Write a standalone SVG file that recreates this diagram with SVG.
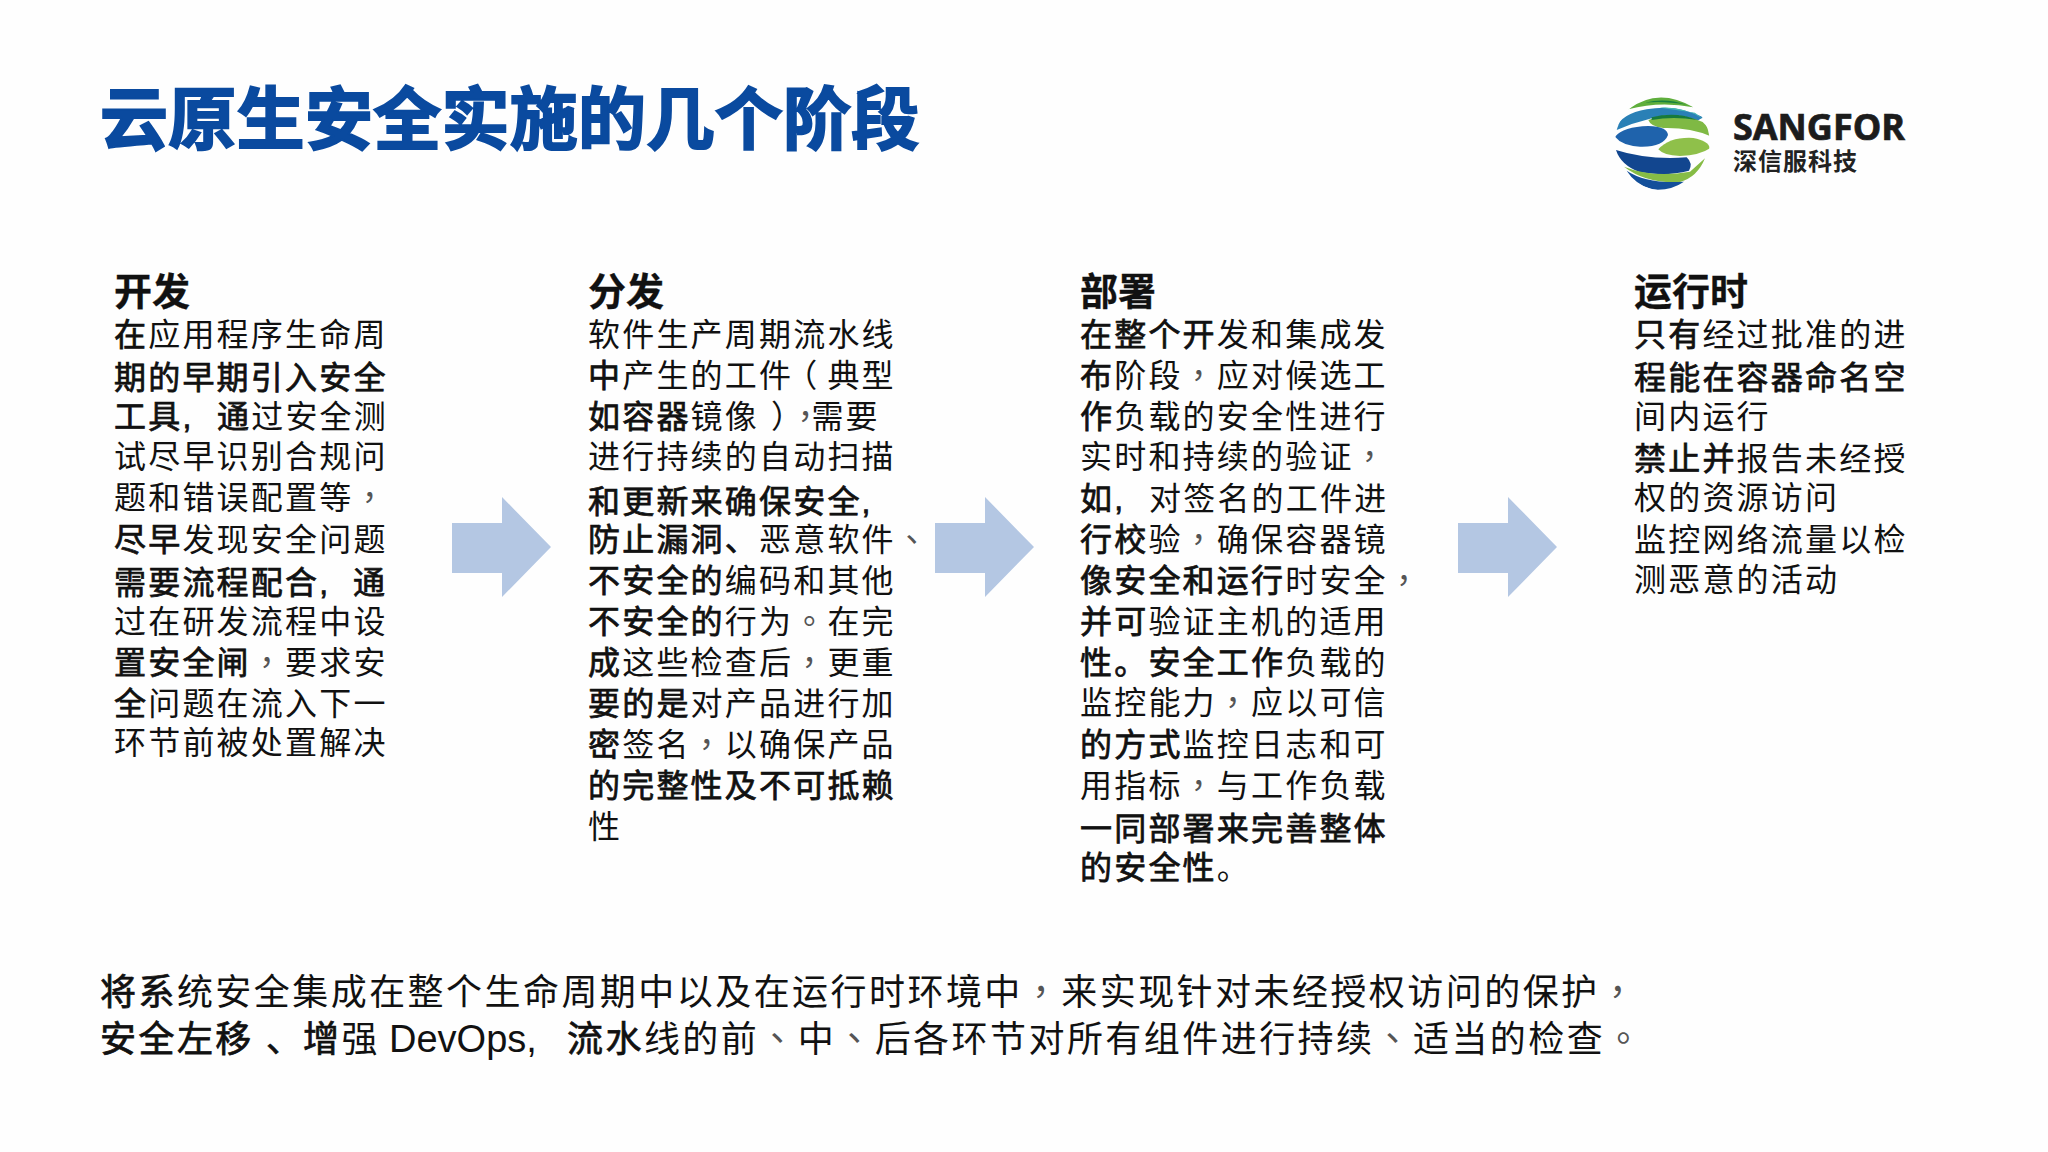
<svg xmlns="http://www.w3.org/2000/svg" width="2048" height="1152" viewBox="0 0 2048 1152">
<defs>
<style>
text{font-family:"Liberation Sans","Noto Sans CJK SC",sans-serif;fill:#111;white-space:pre}
.t{font-size:32px;letter-spacing:2.2px}
.h{font-size:38px;font-weight:700;letter-spacing:0;stroke:#111;stroke-width:.3px}
.b{stroke:#111;stroke-width:.75px}
.p{font-family:"Noto Sans CJK TC",sans-serif;fill:#555}
.f{font-size:36px;letter-spacing:2.45px}
.title{font-size:68px;font-weight:700;fill:#0a4a9f;stroke:#0a4a9f;stroke-width:2px;letter-spacing:.3px}
.arrow{fill:#b4c7e3}
</style>
<clipPath id="globe"><circle cx="247" cy="218" r="142"/></clipPath>
</defs>
<rect width="2048" height="1152" fill="#fefefe"/>
<text class="title" x="100" y="144">云原生安全实施的几个阶段</text>
<g id="logo">
<g transform="translate(1580,70) scale(0.3333)">
<g clip-path="url(#globe)">
<path d="M145 118Q235 50 340 112Q240 92 145 118Z" fill="#5fae3c"/>
<path d="M195 98Q255 82 320 104Q250 92 195 98Z" fill="#17803f"/>
<path d="M105 178Q125 130 200 118Q290 102 370 142L352 152Q280 122 205 148Q155 160 110 180Z" fill="#2a80b6"/>
<path d="M240 113Q310 108 368 146L345 128Q290 120 240 113Z" fill="#45b7b4"/>
<path d="M205 150Q290 122 368 156Q392 178 390 198Q330 172 250 174Q212 170 205 150Z" fill="#7fb944"/>
<path d="M215 142Q290 124 352 150Q280 138 215 150Z" fill="#177a3c"/>
<path d="M105 200Q130 170 205 168Q262 170 264 195Q250 232 180 230Q125 226 105 200Z" fill="#1f63ac"/>
<path d="M235 238Q270 200 340 204Q385 212 390 235Q360 256 300 258Q250 256 235 238Z" fill="#8fc04a"/>
<path d="M108 240Q200 270 320 262Q340 280 327 302Q260 320 180 307Q122 285 108 240Z" fill="#12468f"/>
<path d="M132 290Q220 325 330 305L375 265Q352 322 300 336Q200 342 132 290Z" fill="#86bc45"/>
<path d="M140 302Q200 342 312 335Q270 364 215 358Q165 342 140 302Z" fill="#134f9a"/>
</g>
</g>
<text x="1733" y="140" font-size="35" font-weight="700" textLength="172" lengthAdjust="spacingAndGlyphs" style="font-family:'Open Sans','Liberation Sans',sans-serif;fill:#1c1c1c;stroke:#1c1c1c;stroke-width:.7px">SANGFOR</text>
<text x="1733" y="170" font-size="24" font-weight="700" style="letter-spacing:1px;fill:#222">深信服科技</text>
</g>
<g id="connectors">
<path class="arrow" d="M452 523H502V497L551 547L502 597V573H452Z"/>
<path class="arrow" d="M935 523H985V497L1034 547L985 597V573H935Z"/>
<path class="arrow" d="M1458 523H1508V497L1557 547L1508 597V573H1458Z"/>
</g>
<g id="stage-dev">
<text class="h" x="114" y="305">开发</text>
<text class="t" x="114" y="346"><tspan class="b">在</tspan>应用程序生命周</text>
<text class="t b" x="114" y="389">期的早期引入安全</text>
<text class="t" x="114" y="428"><tspan class="b">工具,</tspan><tspan class="b" x="217">通</tspan>过安全测</text>
<text class="t" x="114" y="468">试尽早识别合规问</text>
<text class="t" x="114" y="509">题和错误配置等<tspan class="p">，</tspan></text>
<text class="t" x="114" y="551"><tspan class="b">尽早</tspan>发现安全问题</text>
<text class="t b" x="114" y="594">需要流程配合,<tspan x="353">通</tspan></text>
<text class="t" x="114" y="633">过在研发流程中设</text>
<text class="t" x="114" y="674"><tspan class="b">置安全闸</tspan><tspan class="p">，</tspan>要求安</text>
<text class="t" x="114" y="715"><tspan class="b">全</tspan>问题在流入下一</text>
<text class="t" x="114" y="754">环节前被处置解决</text>
</g>
<g id="stage-dist">
<text class="h" x="588" y="305">分发</text>
<text class="t" x="588" y="346">软件生产周期流水线</text>
<text class="t" x="588" y="387"><tspan class="b">中</tspan>产生的工件<tspan dx="-8">（</tspan><tspan dx="8">典型</tspan></text>
<text class="t" x="588" y="428"><tspan class="b">如容器</tspan>镜像<tspan dx="12">）</tspan><tspan class="p">，</tspan><tspan dx="-12">需要</tspan></text>
<text class="t" x="588" y="468">进行持续的自动扫描</text>
<text class="t b" x="588" y="513">和更新来确保安全,</text>
<text class="t" x="588" y="551"><tspan class="b">防止漏洞、</tspan>恶意软件<tspan class="p">、</tspan></text>
<text class="t" x="588" y="592"><tspan class="b">不安全的</tspan>编码和其他</text>
<text class="t" x="588" y="633"><tspan class="b">不安全的</tspan>行为<tspan class="p">。</tspan>在完</text>
<text class="t" x="588" y="674"><tspan class="b">成</tspan>这些检查后<tspan class="p">，</tspan>更重</text>
<text class="t" x="588" y="715"><tspan class="b">要的是</tspan>对产品进行加</text>
<text class="t" x="588" y="756"><tspan class="b">密</tspan>签名<tspan class="p">，</tspan>以确保产品</text>
<text class="t b" x="588" y="797">的完整性及不可抵赖</text>
<text class="t" x="588" y="838">性</text>
</g>
<g id="stage-deploy">
<text class="h" x="1080" y="305">部署</text>
<text class="t" x="1080" y="346"><tspan class="b">在整个开</tspan>发和集成发</text>
<text class="t" x="1080" y="387"><tspan class="b">布</tspan>阶段<tspan class="p">，</tspan>应对候选工</text>
<text class="t" x="1080" y="428"><tspan class="b">作</tspan>负载的安全性进行</text>
<text class="t" x="1080" y="468">实时和持续的验证<tspan class="p">，</tspan></text>
<text class="t" x="1080" y="510"><tspan class="b">如,</tspan><tspan x="1149">对签名的工件进</tspan></text>
<text class="t" x="1080" y="551"><tspan class="b">行校</tspan>验<tspan class="p">，</tspan>确保容器镜</text>
<text class="t" x="1080" y="592"><tspan class="b">像安全和运行</tspan>时安全<tspan class="p">，</tspan></text>
<text class="t" x="1080" y="633"><tspan class="b">并可</tspan>验证主机的适用</text>
<text class="t" x="1080" y="674"><tspan class="b">性。安全工作</tspan>负载的</text>
<text class="t" x="1080" y="714">监控能力<tspan class="p">，</tspan>应以可信</text>
<text class="t" x="1080" y="756"><tspan class="b">的方式</tspan>监控日志和可</text>
<text class="t" x="1080" y="797">用指标<tspan class="p">，</tspan>与工作负载</text>
<text class="t b" x="1080" y="840">一同部署来完善整体</text>
<text class="t" x="1080" y="879"><tspan class="b">的安全性</tspan>。</text>
</g>
<g id="stage-run">
<text class="h" x="1634" y="305">运行时</text>
<text class="t" x="1634" y="346"><tspan class="b">只有</tspan>经过批准的进</text>
<text class="t b" x="1634" y="389">程能在容器命名空</text>
<text class="t" x="1634" y="428">间内运行</text>
<text class="t" x="1634" y="470"><tspan class="b">禁止并</tspan>报告未经授</text>
<text class="t" x="1634" y="509">权的资源访问</text>
<text class="t" x="1634" y="551">监控网络流量以检</text>
<text class="t" x="1634" y="591">测恶意的活动</text>
</g>
<g id="summary">
<text class="f" x="100" y="1005"><tspan class="b">将系</tspan>统安全集成在整个生命周期中以及在运行时环境中<tspan class="p">，</tspan>来实现针对未经授权访问的保护<tspan class="p">，</tspan></text>
<text class="f" x="100" y="1052"><tspan class="b">安全左移</tspan><tspan class="b" x="266">、</tspan><tspan class="b" x="303">增</tspan>强<tspan x="389" style="letter-spacing:0;font-size:38px">DevOps,</tspan><tspan class="b" x="567">流水</tspan>线的前<tspan class="p">、</tspan>中<tspan class="p">、</tspan>后各环节对所有组件进行持续<tspan class="p">、</tspan>适当的检查<tspan class="p">。</tspan></text>
</g>
</svg>
